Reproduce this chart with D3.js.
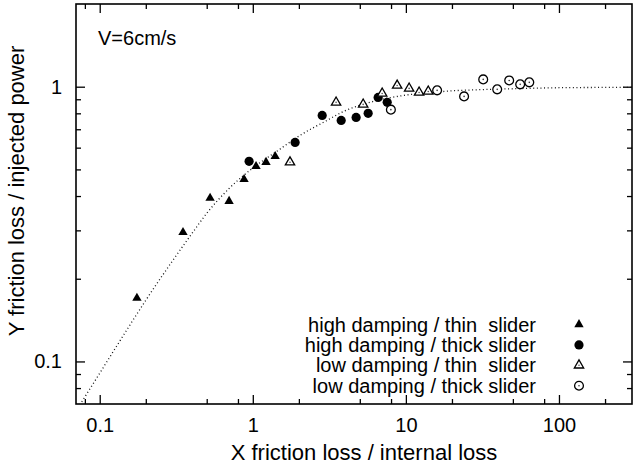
<!DOCTYPE html>
<html>
<head>
<meta charset="utf-8">
<script src="https://cdn.jsdelivr.net/npm/d3@7"></script>
<style>
    body { margin: 0; background: #fff; }
    text { font-family: "Liberation Sans", Arial, Helvetica, sans-serif; fill: #000; }
</style>
</head>
<body>
<svg id="chart" width="642" height="469"></svg>
<script>
// tick values / labels
var xMajor = [0.1, 1, 10, 100]
var xMajorLabels = ["0.1", "1", "10", "100"]
var xMinor = [0.08, 0.2, 0.5, 0.8, 2, 5, 8, 20, 50, 80, 200]
var yMajor = [0.1, 1]
var yMajorLabels = ["0.1", "1"]
var yMinor = [0.08, 0.09, 0.2, 0.3, 0.4, 0.5, 0.6, 0.7, 0.8, 0.9]

// series
var seriesNames = ["high damping / thin  slider", "high damping / thick slider",
    "low damping / thin  slider", "low damping / thick slider"]
var hdThinX = [0.175, 0.35, 0.526, 0.70, 0.877, 1.05, 1.22, 1.40]
var hdThinY = [0.170, 0.295, 0.393, 0.383, 0.460, 0.513, 0.531, 0.558]
var hdThickX = [0.946, 1.89, 2.84, 3.78, 4.73, 5.67, 6.59, 7.55]
var hdThickY = [0.535, 0.627, 0.786, 0.754, 0.773, 0.80, 0.914, 0.877]
var ldThinX = [1.75, 3.50, 5.26, 7.00, 8.77, 10.5, 12.2, 14.0]
var ldThinY = [0.531, 0.877, 0.862, 0.945, 1.01, 0.986, 0.953, 0.961]
var ldThickX = [7.98, 16.0, 24.0, 32.0, 39.5, 47.3, 55.8, 64.0]
var ldThickY = [0.825, 0.970, 0.922, 1.063, 0.978, 1.054, 1.02, 1.037]

// dotted guide curve
var fitX = [0.07, 0.1, 0.15, 0.2, 0.3, 0.4, 0.5, 0.7, 1, 1.5, 2, 3, 4, 6, 10, 15, 20, 30, 50, 100, 200, 300]
var fitY = [0.066, 0.0906, 0.130, 0.167, 0.233, 0.292, 0.346, 0.426, 0.506, 0.592, 0.661, 0.750, 0.817, 0.881,
    0.932, 0.953, 0.966, 0.975, 0.983, 0.9915, 0.994, 0.995]

var svg = d3.select("#chart")
var plotLeft = 76, plotRight = 632, plotTop = 4, plotBottom = 404

var x = d3.scaleLog().domain([0.07, 300]).range([plotLeft, plotRight])
var y = d3.scaleLog().domain([0.07, 2]).range([plotBottom, plotTop])

function zip(xs, ys) {
    return xs.map(function (v, i) { return [v, ys[i]]; })
}

svg.append("defs").append("clipPath").attr("id", "plot")
    .append("rect").attr("x", plotLeft).attr("y", plotTop)
    .attr("width", plotRight - plotLeft).attr("height", plotBottom - plotTop)

// axes (inward ticks, mirrored)
function styleAxis(g) {
    g.select(".domain").remove()
    g.selectAll("line").attr("stroke", "#000").attr("stroke-width", 1.3)
    g.selectAll("text").style("font-size", "20px")
}

svg.append("g").attr("transform", "translate(0," + plotBottom + ")")
    .call(d3.axisBottom(x).tickValues(xMajor).tickSize(-9).tickPadding(13.5)
        .tickFormat(function (d, i) { return xMajorLabels[i]; }))
    .call(styleAxis)
svg.append("g").attr("transform", "translate(0," + plotBottom + ")")
    .call(d3.axisBottom(x).tickValues(xMinor).tickSize(-5).tickFormat(""))
    .call(styleAxis)
svg.append("g").attr("transform", "translate(0," + plotTop + ")")
    .call(d3.axisTop(x).tickValues(xMajor).tickSize(-9).tickFormat(""))
    .call(styleAxis)
svg.append("g").attr("transform", "translate(0," + plotTop + ")")
    .call(d3.axisTop(x).tickValues(xMinor).tickSize(-5).tickFormat(""))
    .call(styleAxis)

svg.append("g").attr("transform", "translate(" + plotLeft + ",0)")
    .call(d3.axisLeft(y).tickValues(yMajor).tickSize(-9).tickPadding(14)
        .tickFormat(function (d, i) { return yMajorLabels[i]; }))
    .call(styleAxis)
svg.append("g").attr("transform", "translate(" + plotLeft + ",0)")
    .call(d3.axisLeft(y).tickValues(yMinor).tickSize(-5).tickFormat(""))
    .call(styleAxis)
svg.append("g").attr("transform", "translate(" + plotRight + ",0)")
    .call(d3.axisRight(y).tickValues(yMajor).tickSize(-9).tickFormat(""))
    .call(styleAxis)
svg.append("g").attr("transform", "translate(" + plotRight + ",0)")
    .call(d3.axisRight(y).tickValues(yMinor).tickSize(-5).tickFormat(""))
    .call(styleAxis)

// frame
svg.append("rect").attr("x", plotLeft).attr("y", plotTop)
    .attr("width", plotRight - plotLeft).attr("height", plotBottom - plotTop)
    .attr("fill", "none").attr("stroke", "#000").attr("stroke-width", 1.6)

// guide curve
var line = d3.line()
    .x(function (d) { return x(d[0]); })
    .y(function (d) { return y(d[1]); })
    .curve(d3.curveMonotoneX)

svg.append("path").datum(zip(fitX, fitY))
    .attr("clip-path", "url(#plot)")
    .attr("d", line)
    .attr("fill", "none").attr("stroke", "#111")
    .attr("stroke-width", 1.3).attr("stroke-dasharray", "1,2.6")

// markers
var tri = d3.symbol().type(d3.symbolTriangle).size(38)

function drawMarker(g, kind) {
    if (kind === 0) {
        g.append("path").attr("d", tri).attr("fill", "#000")
    } else if (kind === 1) {
        g.append("circle").attr("r", 4.6).attr("fill", "#000")
    } else if (kind === 2) {
        g.append("path").attr("d", tri).attr("fill", "#fff")
            .attr("stroke", "#000").attr("stroke-width", 1.3)
        g.append("circle").attr("r", 0.8).attr("fill", "#555")
    } else {
        g.append("circle").attr("r", 4.4).attr("fill", "#fff")
            .attr("stroke", "#000").attr("stroke-width", 1.3)
        g.append("circle").attr("r", 0.8).attr("fill", "#333")
    }
}

var allSeries = [zip(hdThinX, hdThinY), zip(hdThickX, hdThickY), zip(ldThinX, ldThinY), zip(ldThickX, ldThickY)]

allSeries.forEach(function (pts, k) {
    svg.append("g").selectAll("g")
        .data(pts)
        .enter().append("g")
        .attr("transform", function (d) { return "translate(" + x(d[0]) + "," + y(d[1]) + ")"; })
        .each(function () { drawMarker(d3.select(this), k); })
})

// legend
var legend = svg.append("g")
seriesNames.forEach(function (name, k) {
    var cy = 324.5 + k * 20.4
    legend.append("text")
        .attr("x", 536).attr("y", cy + 7)
        .attr("text-anchor", "end")
        .style("font-size", "20px")
        .style("white-space", "pre")
        .attr("xml:space", "preserve")
        .text(name)
    var m = legend.append("g").attr("transform", "translate(579," + cy + ")")
    drawMarker(m, k)
})

// labels
svg.append("text").attr("x", 98).attr("y", 45)
    .style("font-size", "20px").text("V=6cm/s")

svg.append("text").attr("x", 364).attr("y", 460)
    .attr("text-anchor", "middle").style("font-size", "22px")
    .text("X friction loss / internal loss")

svg.append("text")
    .attr("transform", "translate(24,191) rotate(-90)")
    .attr("text-anchor", "middle").style("font-size", "22px")
    .text("Y friction loss / injected power")
</script>
</body>
</html>
